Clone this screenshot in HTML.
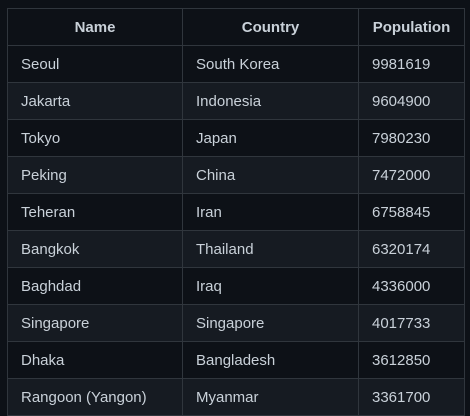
<!DOCTYPE html>
<html><head><style>
html,body{margin:0;padding:0;background:#0d1117;width:470px;height:411px;overflow:hidden}
table{position:absolute;left:7px;top:8px;border-collapse:collapse;font-family:"Liberation Sans",sans-serif;font-size:15px;color:#c9d1d9}
td,th{border:1px solid #30363d;height:37px;padding:0 13px;box-sizing:border-box;text-align:left}
th{text-align:center;font-weight:bold}
tbody tr:nth-child(even){background:#161b22}
</style></head><body>
<table>
<colgroup><col style="width:175px"><col style="width:176px"><col style="width:106px"></colgroup>
<thead><tr><th>Name</th><th>Country</th><th>Population</th></tr></thead>
<tbody>
<tr><td>Seoul</td><td>South Korea</td><td>9981619</td></tr>
<tr><td>Jakarta</td><td>Indonesia</td><td>9604900</td></tr>
<tr><td>Tokyo</td><td>Japan</td><td>7980230</td></tr>
<tr><td>Peking</td><td>China</td><td>7472000</td></tr>
<tr><td>Teheran</td><td>Iran</td><td>6758845</td></tr>
<tr><td>Bangkok</td><td>Thailand</td><td>6320174</td></tr>
<tr><td>Baghdad</td><td>Iraq</td><td>4336000</td></tr>
<tr><td>Singapore</td><td>Singapore</td><td>4017733</td></tr>
<tr><td>Dhaka</td><td>Bangladesh</td><td>3612850</td></tr>
<tr><td>Rangoon (Yangon)</td><td>Myanmar</td><td>3361700</td></tr>
</tbody></table>
</body></html>
